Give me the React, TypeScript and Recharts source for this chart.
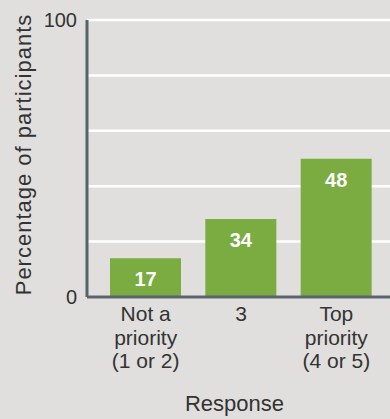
import { BarChart, Bar, XAxis, YAxis, CartesianGrid, LabelList, Label } from 'recharts';

// category names and the lines they are printed on under the axis
const responses = ['Not a priority (1 or 2)', '3', 'Top priority (4 or 5)'];
const tickLines = [['Not a', 'priority', '(1 or 2)'], ['3'], ['Top', 'priority', '(4 or 5)']];

// bar heights as drawn, and the numbers printed on the bars
const barHeights = [14, 28.2, 49.9];
const printedValues = [17, 34, 48];

const yTicks = [0, 20, 40, 60, 80, 100];
const yTickLabels = ['0', '', '', '', '', '100'];

const BG = '#e0dfdd';
const GREEN = '#7aac41';
const AXIS = '#59636a';
const TEXT = '#333333';
const FONT = '"Liberation Sans", Arial, sans-serif';

const data = responses.map((r, i) => ({ response: r, height: barHeights[i], printed: printedValues[i] }));

function XTick({ x, y, payload }: { x?: number; y?: number; payload?: { index: number } }) {
  const lines = tickLines[payload?.index ?? 0];
  return (
    <text x={x} y={(y ?? 0) + 16} textAnchor="middle" fill={TEXT} fontSize={21} fontFamily={FONT}>
      {lines.map((l, i) => (
        <tspan key={i} x={x} dy={i === 0 ? 0 : 23.5}>{l}</tspan>
      ))}
    </text>
  );
}

function YTitle(props: any) {
  const vb = props.viewBox ?? { y: 20, height: 277 };
  const cy = vb.y + vb.height / 2 - 4;
  return (
    <text
      x={23}
      y={cy}
      transform={`rotate(-90, 23, ${cy})`}
      textAnchor="middle"
      dominantBaseline="central"
      fill={TEXT}
      fontSize={22}
      letterSpacing={1}
      fontFamily={FONT}
    >
      Percentage of participants
    </text>
  );
}

export default function App() {
  return (
    <div style={{ position: 'fixed', left: 0, top: 0, width: 390, height: 419, background: BG }}>
      <BarChart width={390} height={419} data={data} margin={{ top: 20, right: 0, bottom: 0, left: 0 }}>
        <CartesianGrid vertical={false} stroke="#ffffff" strokeWidth={2.5} />
        <XAxis
          dataKey="response"
          interval={0}
          height={122}
          tickLine={false}
          tick={<XTick />}
          axisLine={{ stroke: AXIS, strokeWidth: 3 }}
          padding={{ left: 11, right: 6 }}
        >
          <Label value="Response" position="insideBottom" offset={8} dx={-4} fontSize={22} fill={TEXT} fontFamily={FONT} />
        </XAxis>
        <YAxis
          width={87}
          domain={[0, 100]}
          ticks={yTicks}
          interval={0}
          tickLine={false}
          tickSize={8}
          tickMargin={2}
          tickFormatter={(v: number) => yTickLabels[yTicks.indexOf(v)]}
          tick={{ fill: TEXT, fontSize: 20, fontFamily: FONT }}
          axisLine={{ stroke: AXIS, strokeWidth: 3 }}
        >
          <Label content={<YTitle />} />
        </YAxis>
        <Bar dataKey="height" fill={GREEN} barSize={71} isAnimationActive={false}>
          <LabelList
            dataKey="printed"
            position="insideTop"
            offset={14}
            fill="#ffffff"
            fontSize={20}
            fontWeight="bold"
            fontFamily={FONT}
          />
        </Bar>
      </BarChart>
    </div>
  );
}
